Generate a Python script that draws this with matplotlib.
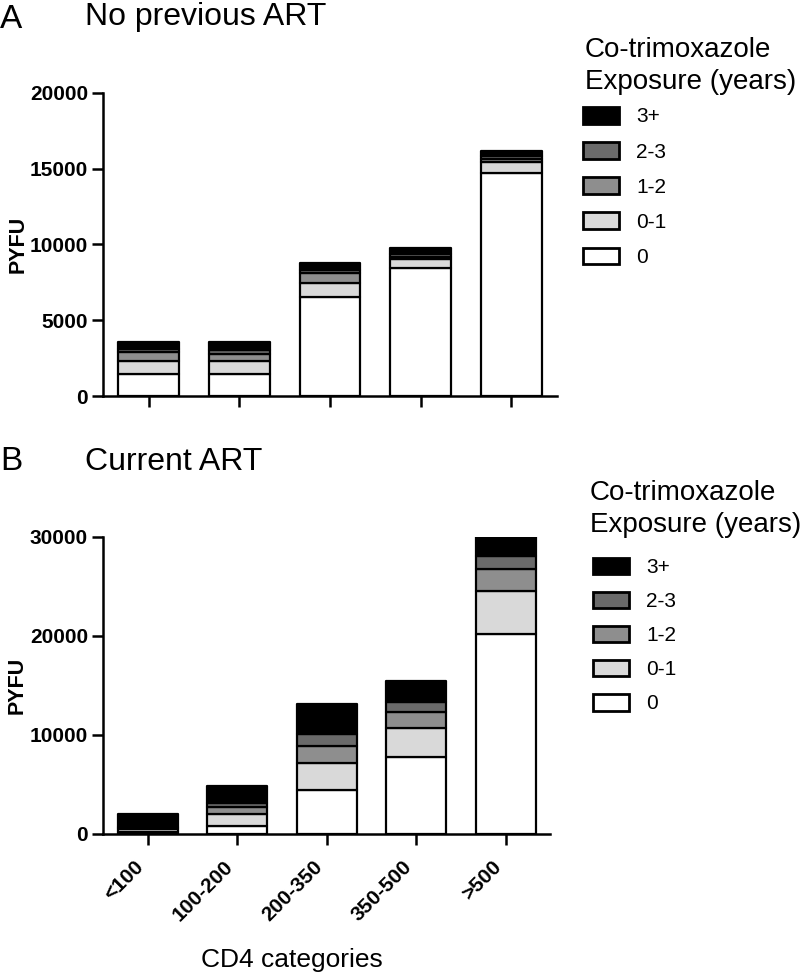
import numpy as np
import matplotlib.pyplot as plt
import matplotlib.transforms as mtransforms
from matplotlib.patches import Patch

plt.rcParams['font.family'] = ['Liberation Sans', 'DejaVu Sans']

# CD4 categories
cd4 = ['<100', '100-200', '200-350', '350-500', '>500']
exposure = ['0', '0-1', '1-2', '2-3', '3+']
colors = ['#ffffff', '#d9d9d9', '#8e8e8e', '#6a6a6a', '#000000']

# panel A: no previous ART (PYFU per exposure group)
a_0 = [1450, 1450, 6520, 8480, 14740]
a_01 = [900, 870, 950, 540, 690]
a_12 = [550, 490, 680, 170, 220]
a_23 = [200, 220, 150, 160, 150]
a_3p = [500, 530, 500, 420, 380]

# panel B: current ART
b_0 = [200, 840, 4450, 7820, 20220]
b_01 = [300, 1180, 2700, 2860, 4280]
b_12 = [100, 740, 1780, 1690, 2260]
b_23 = [80, 410, 1180, 1010, 1340]
b_3p = [1370, 1720, 3000, 2120, 1900]

data_a = [a_0, a_01, a_12, a_23, a_3p]
data_b = [b_0, b_01, b_12, b_23, b_3p]

fig = plt.figure(figsize=(8, 9.76), dpi=100)


def draw_panel(rect, data, ymax, yticks):
    ax = fig.add_axes(rect)
    x = np.arange(len(cd4))
    bottom = np.zeros(len(cd4))
    for vals, c in zip(data, colors):
        ax.bar(x, vals, bottom=bottom, width=0.67, color=c,
               edgecolor='black', linewidth=1.6, joinstyle='round')
        bottom += np.array(vals)
    ax.set_xlim(-0.5, 4.5)
    ax.set_ylim(0, ymax)
    ax.set_yticks(yticks)
    ax.set_xticks(x)
    for s in ['top', 'right']:
        ax.spines[s].set_visible(False)
    for s in ['left', 'bottom']:
        ax.spines[s].set_linewidth(1.8)
    ax.tick_params(width=1.8, length=8, labelsize=15, pad=3)
    for lab in ax.get_yticklabels():
        lab.set_fontweight('bold')
    ax.set_ylabel('PYFU', fontsize=15.5, fontweight='bold')
    return ax


ax1 = draw_panel([0.129, 0.594, 0.567, 0.311], data_a, 20000,
                 [0, 5000, 10000, 15000, 20000])
ax1.set_xticklabels([])
ax1.yaxis.set_label_coords(-0.165, 0.5)

ax2 = draw_panel([0.129, 0.1455, 0.559, 0.3043], data_b, 30000,
                 [0, 10000, 20000, 30000])
ax2.set_xticklabels(cd4, rotation=45, ha='right', va='top',
                    rotation_mode='anchor', fontweight='bold', fontsize=15)
shift = mtransforms.ScaledTranslation(-14 / 100, -8 / 100, fig.dpi_scale_trans)
for lab in ax2.get_xticklabels():
    lab.set_transform(lab.get_transform() + shift)
ax2.yaxis.set_label_coords(-0.168, 0.5)

fig.text(292 / 800, 1 - 960 / 976, 'CD4 categories', fontsize=19,
         ha='center', va='center')

# panel letters and titles
fig.text(0.0, 1 - 19 / 976, 'A', fontsize=24, va='center', ha='left')
fig.text(85 / 800, 1 - 17 / 976, 'No previous ART', fontsize=23, va='center')
fig.text(0.0, 1 - 462 / 976, 'B', fontsize=24, va='center', ha='left')
fig.text(85 / 800, 1 - 462 / 976, 'Current ART', fontsize=23, va='center')

# legends: title lines as text, entries as legend rows
handles = [Patch(facecolor=c, edgecolor='black', linewidth=2)
           for c in colors][::-1]
labels = exposure[::-1]
legend_spec = [
    (ax1, 585, 50, 82, 583, 187, 0.75),
    (ax2, 590, 493, 525, 593, 635.5, 0.7),
]
for ax, tx, y1, y2, lx, lmid, lsp in legend_spec:
    fig.text(tx / 800, 1 - y1 / 976, 'Co-trimoxazole', fontsize=20,
             va='center', ha='left')
    fig.text(tx / 800, 1 - y2 / 976, 'Exposure (years)', fontsize=20,
             va='center', ha='left')
    ax.legend(handles, labels, loc='center left',
              bbox_to_anchor=(lx / 800, 1 - lmid / 976),
              bbox_transform=fig.transFigure, frameon=False,
              fontsize=15, handlelength=1.75, handleheight=0.85,
              labelspacing=lsp, handletextpad=0.8,
              borderaxespad=0, borderpad=0)

fig.savefig('out.png', dpi=100)
